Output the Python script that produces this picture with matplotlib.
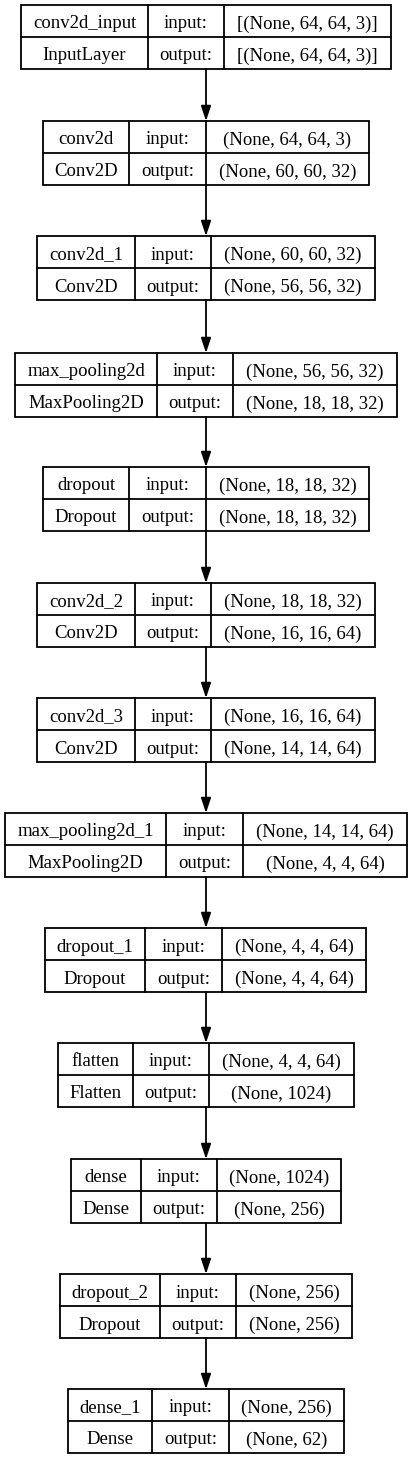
import matplotlib
matplotlib.use("Agg")
from matplotlib import pyplot as plt
from matplotlib.patches import Rectangle

# layer data
names = ["conv2d_input", "conv2d", "conv2d_1", "max_pooling2d", "dropout", "conv2d_2",
         "conv2d_3", "max_pooling2d_1", "dropout_1", "flatten", "dense", "dropout_2", "dense_1"]
types = ["InputLayer", "Conv2D", "Conv2D", "MaxPooling2D", "Dropout", "Conv2D",
         "Conv2D", "MaxPooling2D", "Dropout", "Flatten", "Dense", "Dropout", "Dense"]
in_shapes = ["[(None, 64, 64, 3)]", "(None, 64, 64, 3)", "(None, 60, 60, 32)", "(None, 56, 56, 32)",
             "(None, 18, 18, 32)", "(None, 18, 18, 32)", "(None, 16, 16, 64)", "(None, 14, 14, 64)",
             "(None, 4, 4, 64)", "(None, 4, 4, 64)", "(None, 1024)", "(None, 256)", "(None, 256)"]
out_shapes = ["[(None, 64, 64, 3)]", "(None, 60, 60, 32)", "(None, 56, 56, 32)", "(None, 18, 18, 32)",
              "(None, 18, 18, 32)", "(None, 16, 16, 64)", "(None, 14, 14, 64)", "(None, 4, 4, 64)",
              "(None, 4, 4, 64)", "(None, 1024)", "(None, 256)", "(None, 256)", "(None, 62)"]

# layout in pixels: left, divider1, divider2, right, top
lefts = [21, 43, 37, 15, 43, 37, 37, 5, 45, 58, 71, 60, 68]
div1 = [148, 129, 135, 157, 129, 135, 135, 166, 145, 133, 141, 160, 152]
div2 = [224, 206, 211, 233, 206, 211, 211, 243, 222, 209, 217, 236, 229]
rights = [391, 369, 375, 397, 369, 375, 375, 407, 366, 354, 341, 352, 344]
tops = [5, 121, 236, 353, 467, 583, 698, 813, 928, 1043, 1159, 1274, 1389]
H = 64
AX = 206

fig = plt.figure(figsize=(4.13, 14.6), dpi=100)
ax = fig.add_axes([0, 0, 1, 1])
ax.set_xlim(0, 413)
ax.set_ylim(1460, 0)
ax.axis("off")

font = dict(family="Liberation Serif", fontsize=13.5, ha="center", va="center_baseline", color="black")

for i in range(len(names)):
    l, d1, d2, r, t = lefts[i], div1[i], div2[i], rights[i], tops[i]
    ax.add_patch(Rectangle((l, t), r - l, H, fill=False, lw=1.3, ec="black"))
    ax.plot([d1, d1], [t, t + H], color="black", lw=1.3)
    ax.plot([d2, d2], [t, t + H], color="black", lw=1.3)
    ax.plot([l, r], [t + H / 2, t + H / 2], color="black", lw=1.3)
    y1 = t + H / 4 + 1
    y2 = t + 3 * H / 4 + 1
    ax.text((l + d1) / 2, y1, names[i], **font)
    ax.text((l + d1) / 2, y2, types[i], **font)
    ax.text((d1 + d2) / 2, y1, "input:", **font)
    ax.text((d1 + d2) / 2, y2, "output:", **font)
    ax.text((d2 + r) / 2, y1, in_shapes[i], **font)
    ax.text((d2 + r) / 2, y2, out_shapes[i], **font)
    if i + 1 < len(names):
        ax.annotate("", xy=(AX, tops[i + 1]), xytext=(AX, t + H),
                    arrowprops=dict(arrowstyle="-|>,head_length=0.9,head_width=0.3",
                                    color="black", lw=1.3, shrinkA=0, shrinkB=0))

fig.savefig("out.png", dpi=100, facecolor="white")
